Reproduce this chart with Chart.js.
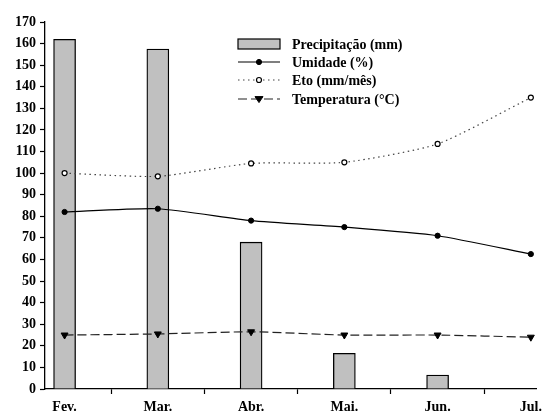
<!DOCTYPE html>
<html>
<head>
<meta charset="utf-8">
<script src="https://cdn.jsdelivr.net/npm/chart.js@4/dist/chart.umd.min.js"></script>
<style>
html,body{margin:0;padding:0;background:#fff;}
#wrap{width:547px;height:414px;position:relative;}
</style>
</head>
<body>
<div id="wrap"><canvas id="c" width="547" height="414"></canvas></div>
<script>
const months = ["Fev.", "Mar.", "Abr.", "Mai.", "Jun.", "Jul."];
const precipitacao = [162, 157.5, 68, 16.5, 6.5, null];
const umidade = [82, 83.5, 78, 75, 71, 62.5];
const eto = [100, 98.5, 104.5, 105, 113.5, 135];
const temperatura = [25, 25.5, 26.5, 25, 25, 24];
const seriesNames = ["Precipitação (mm)", "Umidade (%)", "Eto (mm/mês)", "Temperatura (°C)"];
const yTicks = [0,10,20,30,40,50,60,70,80,90,100,110,120,130,140,150,160,170];

const FONT = "'Liberation Serif', 'Times New Roman', serif";
const toXY = arr => arr.map((v, i) => ({x: i, y: v}));

const legendPlugin = {
  id: 'insideLegend',
  afterDraw(chart) {
    const ctx = chart.ctx;
    const x0 = 238, x1 = 280, tx = 292;
    const ys = [44, 62, 80, 99];
    ctx.save();
    ctx.font = "bold 14px " + FONT;
    ctx.textBaseline = 'middle';
    ctx.fillStyle = '#000';
    chart.data.datasets.forEach((ds, i) => {
      const y = ys[i];
      if (ds.type === 'bar') {
        ctx.fillStyle = ds.backgroundColor;
        ctx.fillRect(x0, y - 5, x1 - x0, 10);
        ctx.strokeStyle = '#000';
        ctx.lineWidth = 1.2;
        ctx.strokeRect(x0, y - 5, x1 - x0, 10);
      } else {
        ctx.strokeStyle = ds.borderColor;
        ctx.lineWidth = ds.borderWidth;
        ctx.setLineDash(ds.borderDash || []);
        ctx.beginPath();
        ctx.moveTo(x0, y);
        ctx.lineTo(x1, y);
        ctx.stroke();
        ctx.setLineDash([]);
        const mx = (x0 + x1) / 2;
        ctx.fillStyle = ds.pointBackgroundColor;
        ctx.strokeStyle = ds.pointBorderColor;
        ctx.lineWidth = ds.pointBorderWidth;
        ctx.beginPath();
        if (ds.pointStyle === 'triangle') {
          const r = ds.pointRadius;
          ctx.moveTo(mx - r, y - r * 0.6);
          ctx.lineTo(mx + r, y - r * 0.6);
          ctx.lineTo(mx, y + r * 0.9);
          ctx.closePath();
        } else {
          ctx.arc(mx, y, ds.pointRadius, 0, Math.PI * 2);
        }
        ctx.fill();
        ctx.stroke();
      }
      ctx.fillStyle = '#000';
      ctx.fillText(ds.label, tx, y + 1);
    });
    ctx.restore();
  }
};

new Chart(document.getElementById('c'), {
  type: 'bar',
  data: {
    datasets: [
      {
        type: 'bar',
        label: seriesNames[0],
        data: toXY(precipitacao),
        backgroundColor: '#c0c0c0',
        borderColor: '#000',
        borderWidth: 1.3,
        barThickness: 22,
        order: 4
      },
      {
        type: 'line',
        label: seriesNames[1],
        data: toXY(umidade),
        borderColor: '#000',
        borderWidth: 1.2,
        pointStyle: 'circle',
        pointRadius: 2.6,
        pointBackgroundColor: '#000',
        pointBorderColor: '#000',
        pointBorderWidth: 1,
        tension: 0.2,
        fill: false,
        order: 1
      },
      {
        type: 'line',
        label: seriesNames[2],
        data: toXY(eto),
        borderColor: '#444',
        borderWidth: 1.2,
        borderDash: [1.5, 3.5],
        pointStyle: 'circle',
        pointRadius: 2.5,
        pointBackgroundColor: '#fff',
        pointBorderColor: '#000',
        pointBorderWidth: 1.2,
        tension: 0.2,
        fill: false,
        order: 2
      },
      {
        type: 'line',
        label: seriesNames[3],
        data: toXY(temperatura),
        borderColor: '#222',
        borderWidth: 1.2,
        borderDash: [9, 4],
        pointStyle: 'triangle',
        rotation: 180,
        pointRadius: 4,
        pointBackgroundColor: '#000',
        pointBorderColor: '#000',
        pointBorderWidth: 1,
        tension: 0.2,
        fill: false,
        order: 3
      }
    ]
  },
  options: {
    responsive: false,
    animation: false,
    layout: {padding: {top: 22, right: 0, left: 0, bottom: 0}},
    plugins: {legend: {display: false}, tooltip: {enabled: false}},
    scales: {
      x: {
        type: 'linear',
        min: -0.21,
        max: 5.06,
        offset: false,
        afterBuildTicks: s => { s.ticks = months.map((m, i) => ({value: i})); },
        afterFit: s => { s.height = 25; },
        ticks: {
          callback: (v) => months[Math.round(v)] || '',
          color: '#000',
          font: {family: FONT, size: 14, weight: 'bold'},
          maxRotation: 0,
          autoSkip: false,
          padding: 5
        },
        grid: {display: true, drawOnChartArea: false, drawTicks: true, tickLength: 5, tickColor: '#000', tickWidth: 1.2},
        border: {display: true, color: '#000', width: 1.3}
      },
      y: {
        min: 0,
        max: 170,
        afterBuildTicks: s => { s.ticks = yTicks.map(v => ({value: v})); },
        afterFit: s => { s.width = 45; s.paddingTop = 0; s.paddingBottom = 0; },
        ticks: {
          color: '#000',
          font: {family: FONT, size: 14, weight: 'bold'},
          padding: 4
        },
        grid: {display: true, drawOnChartArea: false, drawTicks: true, tickLength: 5, tickColor: '#000', tickWidth: 1.2},
        border: {display: true, color: '#000', width: 1.3}
      }
    }
  },
  plugins: [legendPlugin]
});
</script>
</body>
</html>
